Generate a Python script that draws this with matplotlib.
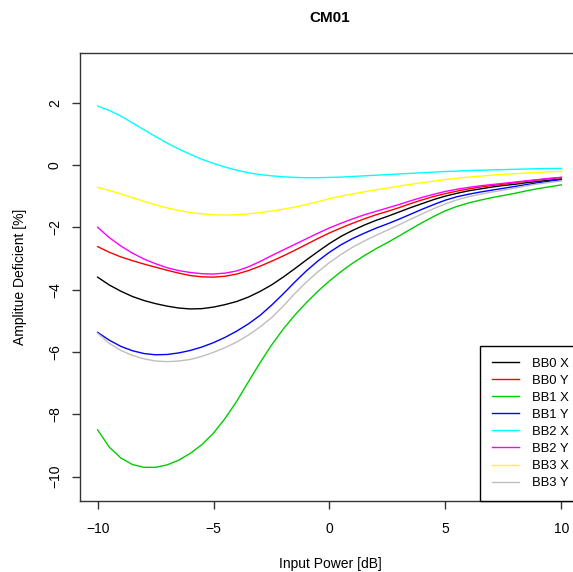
import matplotlib
matplotlib.use("Agg")
import matplotlib.pyplot as plt

plt.rcParams['font.family'] = ['Liberation Sans', 'DejaVu Sans']

input_power = [-10, -9.5, -9, -8.5, -8, -7.5, -7, -6.5, -6, -5.5, -5, -4.5, -4, -3.5, -3, -2.5, -2, -1.5, -1, -0.5,
               0, 0.5, 1, 1.5, 2, 2.5, 3, 3.5, 4, 4.5, 5, 5.5, 6, 6.5, 7, 7.5, 8, 8.5, 9, 9.5, 10]

bb0_x = [-3.60, -3.85, -4.05, -4.22, -4.35, -4.45, -4.53, -4.59, -4.62, -4.61, -4.56, -4.48, -4.38, -4.24, -4.06, -3.85, -3.60, -3.33, -3.05, -2.78,
         -2.52, -2.29, -2.10, -1.93, -1.78, -1.65, -1.51, -1.37, -1.24, -1.11, -1.00, -0.91, -0.83, -0.77, -0.71, -0.66, -0.62, -0.57, -0.53, -0.49, -0.45]
bb0_y = [-2.62, -2.80, -2.95, -3.07, -3.18, -3.28, -3.38, -3.47, -3.55, -3.59, -3.60, -3.57, -3.50, -3.39, -3.25, -3.09, -2.92, -2.74, -2.55, -2.36,
         -2.18, -2.02, -1.87, -1.73, -1.60, -1.49, -1.37, -1.24, -1.12, -1.01, -0.92, -0.84, -0.77, -0.71, -0.66, -0.62, -0.57, -0.52, -0.48, -0.44, -0.40]
bb1_x = [-8.50, -9.05, -9.40, -9.61, -9.70, -9.70, -9.62, -9.47, -9.25, -8.97, -8.60, -8.13, -7.58, -6.96, -6.35, -5.78, -5.27, -4.82, -4.42, -4.05,
         -3.72, -3.42, -3.15, -2.91, -2.69, -2.49, -2.28, -2.06, -1.85, -1.65, -1.47, -1.33, -1.22, -1.13, -1.05, -0.98, -0.91, -0.83, -0.76, -0.70, -0.64]
bb1_y = [-5.37, -5.62, -5.82, -5.96, -6.05, -6.09, -6.08, -6.03, -5.95, -5.84, -5.70, -5.53, -5.33, -5.10, -4.83, -4.50, -4.14, -3.76, -3.40, -3.08,
         -2.80, -2.56, -2.36, -2.19, -2.03, -1.89, -1.74, -1.58, -1.42, -1.27, -1.13, -1.02, -0.94, -0.87, -0.81, -0.75, -0.69, -0.63, -0.57, -0.52, -0.48]
bb2_x = [1.89, 1.75, 1.57, 1.35, 1.13, 0.91, 0.70, 0.51, 0.34, 0.18, 0.05, -0.07, -0.17, -0.25, -0.31, -0.35, -0.38, -0.40, -0.41, -0.41,
         -0.40, -0.39, -0.37, -0.35, -0.33, -0.31, -0.29, -0.27, -0.25, -0.23, -0.21, -0.20, -0.18, -0.17, -0.16, -0.15, -0.14, -0.13, -0.12, -0.115, -0.11]
bb2_y = [-2.00, -2.33, -2.60, -2.83, -3.02, -3.17, -3.30, -3.39, -3.45, -3.49, -3.50, -3.47, -3.40, -3.27, -3.10, -2.91, -2.73, -2.55, -2.37, -2.19,
         -2.02, -1.87, -1.73, -1.60, -1.49, -1.38, -1.27, -1.15, -1.04, -0.94, -0.85, -0.78, -0.72, -0.67, -0.63, -0.59, -0.55, -0.51, -0.47, -0.43, -0.40]
bb3_x = [-0.72, -0.82, -0.93, -1.05, -1.17, -1.28, -1.38, -1.46, -1.53, -1.57, -1.60, -1.61, -1.60, -1.57, -1.53, -1.48, -1.42, -1.35, -1.27, -1.18,
         -1.08, -1.00, -0.93, -0.86, -0.80, -0.74, -0.68, -0.62, -0.57, -0.52, -0.47, -0.43, -0.39, -0.36, -0.33, -0.30, -0.28, -0.26, -0.24, -0.22, -0.21]
bb3_y = [-5.40, -5.72, -5.95, -6.11, -6.22, -6.29, -6.31, -6.29, -6.24, -6.14, -6.01, -5.86, -5.68, -5.46, -5.20, -4.90, -4.53, -4.13, -3.76, -3.43,
         -3.13, -2.87, -2.64, -2.44, -2.26, -2.09, -1.92, -1.74, -1.57, -1.40, -1.25, -1.12, -1.02, -0.94, -0.87, -0.81, -0.74, -0.67, -0.61, -0.56, -0.51]

series_labels = ["BB0 X", "BB0 Y", "BB1 X", "BB1 Y", "BB2 X", "BB2 Y", "BB3 X", "BB3 Y"]
series_values = [bb0_x, bb0_y, bb1_x, bb1_y, bb2_x, bb2_y, bb3_x, bb3_y]
series_colors = ["black", "#FF0000", "#00CD00", "#0000FF", "#00FFFF", "#FF00FF", "#FFFF00", "#BEBEBE"]

x_ticks = [-10, -5, 0, 5, 10]
y_ticks = [-10, -8, -6, -4, -2, 0, 2]

W, H = 573, 572
fig = plt.figure(figsize=(W / 100, H / 100), dpi=100)
ax = fig.add_axes([80 / W, 71 / H, 499 / W, 448 / H])

lines = []
for vals, lab, col in zip(series_values, series_labels, series_colors):
    ln, = ax.plot(input_power, vals, color=col, lw=1.0, label=lab)
    lines.append(ln)

ax.set_xlim(-10.76, 10.76)
ax.set_ylim(-10.78, 3.59)
ax.set_xticks(x_ticks)
ax.set_yticks(y_ticks)
ax.set_xticklabels([str(t).replace('-', '\u2212') for t in x_ticks])
ax.set_yticklabels([str(t).replace('-', '\u2212') for t in y_ticks], rotation=90, va='center')
ax.tick_params(axis='both', direction='out', length=6, width=1, color='#333333', labelsize=10)
ax.tick_params(axis='x', pad=9)
ax.tick_params(axis='y', pad=7)
for s in ax.spines.values():
    s.set_color('#333333')
    s.set_linewidth(1.0)

fig.text(330 / W, 1 - 564 / H, "Input Power [dB]", fontsize=10, ha='center', va='center')
fig.text(20 / W, 1 - 277 / H, "Amplitue Deficient [%]", fontsize=10, ha='center', va='center', rotation=90)
fig.text(330 / W, 1 - 18 / H, "CM01", fontsize=11, fontweight='bold', ha='center', va='center')

leg = ax.legend(handles=lines, loc='lower left', bbox_to_anchor=(480 / W, 71 / H),
                bbox_transform=fig.transFigure, borderaxespad=0, fontsize=9.4,
                frameon=True, fancybox=False, edgecolor='black', framealpha=1,
                handlelength=2.1, handletextpad=1.0, borderpad=0.9, labelspacing=0.38)
leg.get_frame().set_linewidth(1.0)

fig.savefig("out.png", dpi=100)
